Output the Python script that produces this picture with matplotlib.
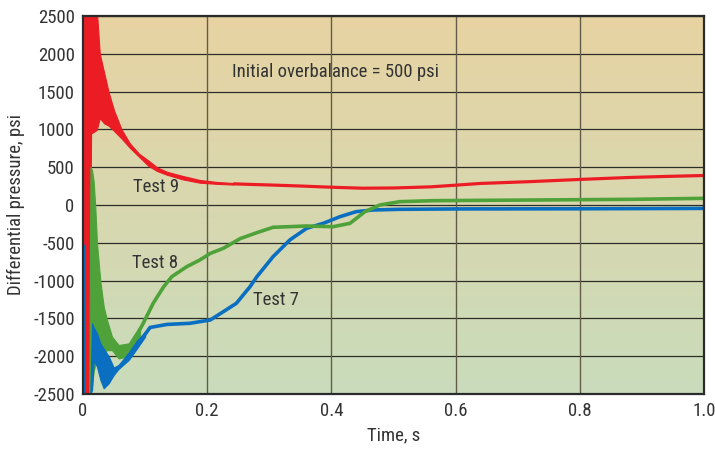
import numpy as np
import matplotlib
matplotlib.use("Agg")
import matplotlib.pyplot as plt
from matplotlib.colors import LinearSegmentedColormap

plt.rcParams['font.family'] = ['Roboto Condensed', 'Archivo Narrow', 'DejaVu Sans']

# ---- Data -------------------------------------------------------------
x_ticks = [0, 0.2, 0.4, 0.6, 0.8, 1.0]
x_tick_labels = ["0", "0.2", "0.4", "0.6", "0.8", "1.0"]
y_ticks = [2500, 2000, 1500, 1000, 500, 0, -500, -1000, -1500, -2000, -2500]
y_tick_labels = ["2500", "2000", "1500", "1000", "500", "0", "-500",
                 "-1000", "-1500", "-2000", "-2500"]

# Test 9 (red): oscillating envelope at early time, then settled trace
t9_env = [0.001, 0.010, 0.013, 0.016, 0.022, 0.027, 0.034, 0.041, 0.050, 0.062,
          0.075, 0.090, 0.105, 0.119, 0.135, 0.160, 0.188, 0.215, 0.242]
p9_hi = [2600, 2600, 2600, 2600, 2600, 2000, 1750, 1500, 1250, 1000,
         820, 680, 590, 500, 440, 385, 331, 305, 291]
p9_lo = [-2500, -2500, 950, 960, 992, 1150, 1080, 1050, 980, 880,
         760, 640, 520, 450, 400, 340, 295, 280, 270]
t9 = [0.242, 0.27, 0.30, 0.35, 0.40, 0.45, 0.50, 0.56, 0.60, 0.64, 0.72,
      0.80, 0.88, 0.94, 1.00]
p9 = [280, 272, 265, 251, 235, 222, 225, 240, 262, 285, 309,
      338, 364, 378, 390]

# Test 8 (green)
t8_env = [0.010, 0.012, 0.0145, 0.0172, 0.020, 0.0225, 0.028, 0.0333, 0.0386,
          0.0467, 0.0574, 0.0735, 0.084, 0.092]
p8_hi = [-2500, 500, 460, 308, -66, -507, -1015, -1345, -1521,
         -1742, -1852, -1830, -1697, -1600]
p8_lo = [-2500, -2500, -2400, -2200, -2100, -2100, -2000, -1950, -1920,
         -1920, -2030, -2000, -1850, -1720]
t8 = [0.084, 0.097, 0.113, 0.130, 0.143, 0.167, 0.188, 0.205, 0.226, 0.253,
      0.280, 0.306, 0.360, 0.403, 0.430, 0.454, 0.478, 0.510, 0.564, 0.725,
      0.886, 1.000]
p8 = [-1760, -1565, -1300, -1080, -948, -816, -728, -640, -573, -445,
      -366, -295, -278, -287, -242, -88, 0, 44, 57, 66,
      75, 88]

# Test 7 (blue)
t7_spike = [0.002, 0.002]
p7_spike = [-2500, -530]
t7_env = [0.0118, 0.0145, 0.0172, 0.0225, 0.028, 0.0333, 0.0413, 0.0494,
          0.057, 0.068, 0.0735, 0.087, 0.100]
p7_hi = [-2500, -1565, -1620, -1697, -1830, -1900, -2000, -2150,
         -2117, -2007, -1950, -1790, -1676]
p7_lo = [-2500, -2448, -2051, -2139, -2315, -2425, -2359, -2249,
         -2170, -2090, -2051, -1896, -1742]
t7 = [0.100, 0.108, 0.135, 0.172, 0.205, 0.226, 0.247, 0.269, 0.280, 0.306,
      0.333, 0.360, 0.387, 0.414, 0.440, 0.467, 0.510, 0.600, 0.800, 1.000]
p7 = [-1710, -1620, -1580, -1565, -1521, -1411, -1300, -1080, -948, -684,
      -463, -309, -242, -154, -88, -66, -57, -52, -50, -45]

# ---- Figure -----------------------------------------------------------
RED = "#ec1c24"
GREEN = "#4fa23a"
BLUE = "#0a6fc0"
TXT = "#333333"
FS = 13.5

fig = plt.figure(figsize=(7.15, 4.49), dpi=100)
ax = fig.add_axes([0.1161, 0.1225, 0.8685, 0.8419])
ax.set_xlim(0, 1.0)
ax.set_ylim(-2500, 2500)

# tan-to-green background wash
bg = LinearSegmentedColormap.from_list("bg", ["#c9dcbc", "#e8d3a2"])
grad = np.linspace(0, 1, 256).reshape(-1, 1)
ax.imshow(grad, cmap=bg, origin="lower", aspect="auto",
          extent=[0, 1.0, -2500, 2500], zorder=0)

for y in y_ticks:
    ax.axhline(y, color="#2e2e28", lw=0.9, zorder=1)
for x in x_ticks:
    ax.axvline(x, color="#625c48", lw=1.0, zorder=1)

# Test 9
ax.fill_between(t9_env, p9_lo, p9_hi, color=RED, lw=0.8, edgecolor=RED, zorder=3)
ax.plot(t9, p9, color=RED, lw=2.3, zorder=3, solid_capstyle="butt")

# Test 8 early band
ax.fill_between(t8_env, p8_lo, p8_hi, color=GREEN, lw=0.8, edgecolor=GREEN, zorder=4)
# Test 7 early band
ax.fill_between(t7_env, p7_lo, p7_hi, color=BLUE, lw=0.8, edgecolor=BLUE, zorder=5)
ax.plot(t7, p7, color=BLUE, lw=2.6, zorder=5)
ax.plot(t7_spike, p7_spike, color=BLUE, lw=1.0, zorder=6)
# Test 8 trace
ax.plot(t8, p8, color=GREEN, lw=2.6, zorder=6)

# annotations
ax.text(0.407, 1760, "Initial overbalance = 500 psi", fontsize=FS,
        color=TXT, ha="center", va="center", zorder=7)
ax.text(0.118, 238, "Test 9", fontsize=FS, color=TXT, ha="center", va="center", zorder=7)
ax.text(0.116, -761, "Test 8", fontsize=FS, color=TXT, ha="center", va="center", zorder=7)
ax.text(0.311, -1263, "Test 7", fontsize=FS, color=TXT, ha="center", va="center", zorder=7)

ax.set_xticks(x_ticks)
ax.set_xticklabels(x_tick_labels)
ax.set_yticks(y_ticks)
ax.set_yticklabels(y_tick_labels)
ax.tick_params(length=0, labelsize=FS, labelcolor=TXT, pad=6)

ax.set_xlabel("Time, s", fontsize=FS, color=TXT, labelpad=4)
ax.set_ylabel("Differential pressure, psi", fontsize=FS, color=TXT, labelpad=6)

for s in ax.spines.values():
    s.set_color("#2b2b2b")
    s.set_linewidth(1.6)
    s.set_zorder(8)

fig.savefig("out.png", dpi=100)
